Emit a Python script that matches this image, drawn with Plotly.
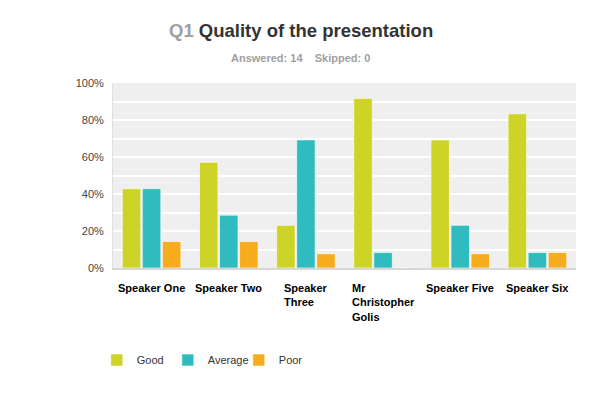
import plotly.graph_objects as go

categories = ["Speaker One", "Speaker Two", "Speaker Three", "Mr Christopher Golis", "Speaker Five", "Speaker Six"]
category_labels = ["Speaker One", "Speaker Two", "Speaker<br>Three", "Mr<br>Christopher<br>Golis", "Speaker Five", "Speaker Six"]
good = [42.86, 57.14, 23.08, 91.67, 69.23, 83.33]
average = [42.86, 28.57, 69.23, 8.33, 23.08, 8.33]
poor = [14.29, 14.29, 7.69, 0.0, 7.69, 8.33]
series_names = ["Good", "Average", "Poor"]
colors = ["#cdd427", "#30bcbf", "#f7ac1d"]
y_ticks = [0, 20, 40, 60, 80, 100]
y_tick_text = ["0%", "20%", "40%", "60%", "80%", "100%"]

fig = go.Figure()
for name, vals, col in zip(series_names, [good, average, poor], colors):
    fig.add_trace(go.Bar(
        x=categories, y=vals, name=name,
        marker=dict(color=col, line=dict(color="rgba(255,255,255,0.6)", width=1)),
        hovertemplate="%{x}: %{y:.2f}%<extra>" + name + "</extra>",
    ))

# plot area: left 113, right 576, top 83, bottom 268 (px)
PLOT_H = 185.0

for cat, lab in zip(categories, category_labels):
    fig.add_annotation(
        x=cat, xref="x", y=-0.065, yref="paper", yanchor="top", xanchor="center",
        text="<b>" + lab + "</b>", showarrow=False, align="left",
        font=dict(family="Liberation Sans, Arial", size=11, color="#000000"),
    )

fig.add_annotation(
    text="<b><span style='color:#a0a0a0'>Q1</span> Quality of the presentation</b>",
    xref="paper", yref="paper", x=(301 - 113) / 463, y=1 + (83 - 30) / PLOT_H,
    xanchor="center", yanchor="middle", showarrow=False,
    font=dict(family="Liberation Sans, Arial", size=18.5, color="#333333"),
)
fig.add_annotation(
    text="<b>Answered: 14&nbsp;&nbsp;&nbsp;&nbsp;Skipped: 0</b>",
    xref="paper", yref="paper", x=(300 - 113) / 463, y=1 + (83 - 58) / PLOT_H,
    xanchor="center", yanchor="middle", showarrow=False,
    font=dict(family="Liberation Sans, Arial", size=11, color="#a0a0a0"),
)

fig.update_layout(
    width=602, height=403,
    margin=dict(l=113, r=26, t=83, b=135, autoexpand=False),
    paper_bgcolor="white", plot_bgcolor="#efefef",
    font=dict(family="Liberation Sans, Arial", size=11, color="#444444"),
    barmode="group", bargap=0.22, bargroupgap=0.08,
    showlegend=True,
    legend=dict(orientation="h", x=-0.035, xanchor="left", y=(268 - 360) / PLOT_H, yanchor="middle",
                font=dict(size=11, color="#333333"), entrywidth=26, entrywidthmode="pixels",
                itemwidth=30, traceorder="normal", bgcolor="rgba(0,0,0,0)"),
)

fig.update_xaxes(showticklabels=False, showgrid=False, showline=True, linecolor="#d6d6d6",
                 linewidth=2, ticks="", zeroline=False, automargin=False)
fig.update_yaxes(range=[0, 100], tickvals=y_ticks, ticktext=y_tick_text, showgrid=True,
                 gridcolor="white", gridwidth=1.5, zeroline=False, showline=True,
                 linecolor="#e0e0e0", linewidth=1, ticks="", ticklabelstandoff=6,
                 automargin=False,
                 minor=dict(dtick=10, showgrid=True, gridcolor="white", gridwidth=1.5),
                 tickfont=dict(size=11, color="#444444"))

fig.write_html("out.html", config={"displayModeBar": False},
               post_script="document.body.style.margin='0';document.body.style.padding='0';")
